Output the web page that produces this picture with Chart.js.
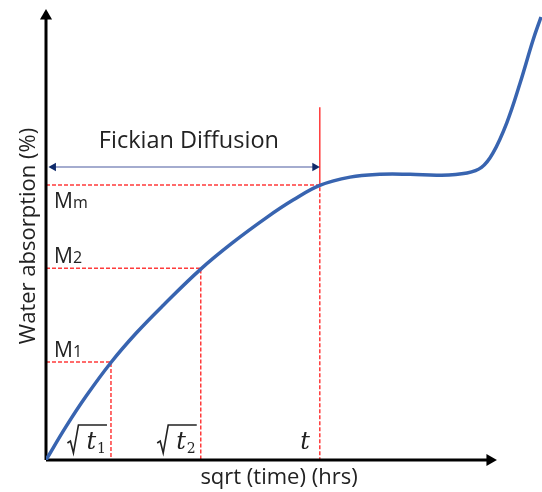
<!DOCTYPE html>
<html>
<head>
<meta charset="utf-8">
<script src="https://cdn.jsdelivr.net/npm/chart.js@4.4.1/dist/chart.umd.min.js"></script>
<style>
  html, body { margin: 0; padding: 0; background: #fff; }
  #wrap { width: 542px; height: 492px; }
</style>
</head>
<body>
<div id="wrap"><canvas id="chart"></canvas></div>
<script>
// absorption curve (x: sqrt time, y: uptake, both 0..100)
const curveX = [0, 4.0, 8.1, 13.1, 18.2, 23.6, 31.2, 37.7, 44.6, 49.8, 55.2, 61.3, 67.3, 73.4, 79.4, 84.9, 87.8, 90.1, 92.9, 95.6, 98.2, 99.8];
const curveY = [0, 7.2, 13.9, 21.2, 27.6, 33.6, 41.5, 47.3, 52.8, 56.5, 59.7, 61.5, 62.1, 62.1, 61.9, 62.4, 63.6, 66.7, 73.3, 82.0, 91.3, 96.3];

// marked times and uptake levels
const tickValues = [13.1, 31.2, 55.2];
const tickNames = ['t', 't', 't'];
const tickSubs = ['1', '2', ''];
const tickRoots = [true, true, false];
const levelValues = [21.3, 41.7, 59.8];
const levelNames = ['M', 'M', 'M'];
const levelSubs = ['1', '2', 'm'];

// extents
const tLineTop = 76.7;
const spanLevel = 63.7;
const spanStart = 1.5;
const spanEnd = 54.2;
const axisXEnd = 89.5;
const axisYEnd = 96.5;

const RED = '#ff3b3b';
const FONT = '"Open Sans", sans-serif';

const guideSets = tickValues.map((t, i) => ({
  data: [{ x: 0, y: levelValues[i] }, { x: t, y: levelValues[i] }, { x: t, y: 0 }],
  borderColor: RED,
  borderWidth: 1.5,
  borderDash: [4, 2],
  pointRadius: 0,
  showLine: true,
  tension: 0
}));

const labelsPlugin = {
  id: 'labels',
  afterDraw(chart) {
    const ctx = chart.ctx;
    const x = chart.scales.x;
    const y = chart.scales.y;
    ctx.save();
    ctx.fillStyle = '#222';

    // span caption
    ctx.font = '23.5px ' + FONT;
    ctx.textAlign = 'center';
    ctx.textBaseline = 'alphabetic';
    ctx.fillText('Fickian Diffusion', (x.getPixelForValue(0) + x.getPixelForValue(tickValues[2])) / 2 + 6, y.getPixelForValue(spanLevel) - 19);

    // axis titles
    ctx.font = '22px ' + FONT;
    ctx.fillText('sqrt (time) (hrs)', 279, 484);
    ctx.save();
    ctx.translate(35, 236);
    ctx.rotate(-Math.PI / 2);
    ctx.fillText('Water absorption (%)', 0, 0);
    ctx.restore();

    // level labels M1, M2, Mm
    const levelOffsets = [-5, -5, 23];
    ctx.textAlign = 'left';
    levelValues.forEach((v, i) => {
      const px = x.getPixelForValue(0) + 8;
      const py = y.getPixelForValue(v) + levelOffsets[i];
      ctx.font = '21px ' + FONT;
      ctx.fillText(levelNames[i], px, py);
      const w = ctx.measureText(levelNames[i]).width;
      ctx.font = '16px ' + FONT;
      ctx.fillText(levelSubs[i], px + w, py);
    });

    // time labels sqrt(t1), sqrt(t2), t
    const base = y.getPixelForValue(0) - 11;
    tickValues.forEach((v, i) => {
      const right = x.getPixelForValue(v) - (tickRoots[i] ? 5 : 10);
      ctx.font = '14px "DejaVu Serif", serif';
      const sw = tickSubs[i] ? ctx.measureText(tickSubs[i]).width + 1 : 0;
      ctx.font = 'italic 24px "DejaVu Serif", serif';
      const tw = ctx.measureText(tickNames[i]).width;
      const left = right - sw - tw;
      ctx.fillText(tickNames[i], left, base);
      if (tickSubs[i]) {
        ctx.font = '14px "DejaVu Serif", serif';
        ctx.fillText(tickSubs[i], right - sw + 1, base + 4);
      }
      if (tickRoots[i]) {
        ctx.strokeStyle = '#222';
        ctx.lineWidth = 1.6;
        ctx.beginPath();
        ctx.moveTo(left - 19, base - 6);
        ctx.lineTo(left - 16, base - 8);
        ctx.lineTo(left - 13, base + 4);
        ctx.lineTo(left - 8, base - 24);
        ctx.lineTo(right + 1, base - 24);
        ctx.stroke();
      }
    });
    ctx.restore();
  }
};

new Chart(document.getElementById('chart'), {
  type: 'scatter',
  data: {
    datasets: [
      {
        data: curveX.map((v, i) => ({ x: v, y: curveY[i] })),
        borderColor: '#3864b0',
        borderWidth: 3.5,
        pointRadius: 0,
        showLine: true,
        tension: 0.4
      },
      {
        data: [{ x: 0, y: 0 }, { x: axisXEnd, y: 0 }],
        borderColor: '#000',
        backgroundColor: '#000',
        borderWidth: 3,
        showLine: true,
        pointStyle: 'triangle',
        pointRadius: [0, 7],
        pointRotation: [0, 90],
        pointBorderWidth: 0,
        clip: false
      },
      {
        data: [{ x: 0, y: 0 }, { x: 0, y: axisYEnd }],
        borderColor: '#000',
        backgroundColor: '#000',
        borderWidth: 3,
        showLine: true,
        pointStyle: 'triangle',
        pointRadius: [0, 7],
        pointRotation: [0, 0],
        pointBorderWidth: 0,
        clip: false
      },
      {
        data: [{ x: spanStart, y: spanLevel }, { x: spanEnd, y: spanLevel }],
        borderColor: '#4a5aa0',
        borderWidth: 1.2,
        showLine: true,
        pointStyle: 'triangle',
        pointRadius: 5,
        pointRotation: [270, 90],
        pointBackgroundColor: '#0f2a6b',
        pointBorderWidth: 0
      },
      {
        data: [{ x: tickValues[2], y: levelValues[2] }, { x: tickValues[2], y: tLineTop }],
        borderColor: RED,
        borderWidth: 1.5,
        pointRadius: 0,
        showLine: true
      },
      ...guideSets
    ]
  },
  options: {
    responsive: true,
    maintainAspectRatio: false,
    animation: false,
    layout: { autoPadding: false, padding: { left: 46, right: 0, top: 0, bottom: 32 } },
    plugins: { legend: { display: false }, tooltip: { enabled: false } },
    scales: {
      x: { type: 'linear', min: 0, max: 100, display: false },
      y: { type: 'linear', min: 0, max: 100, display: false }
    }
  },
  plugins: [labelsPlugin]
});
</script>
</body>
</html>
